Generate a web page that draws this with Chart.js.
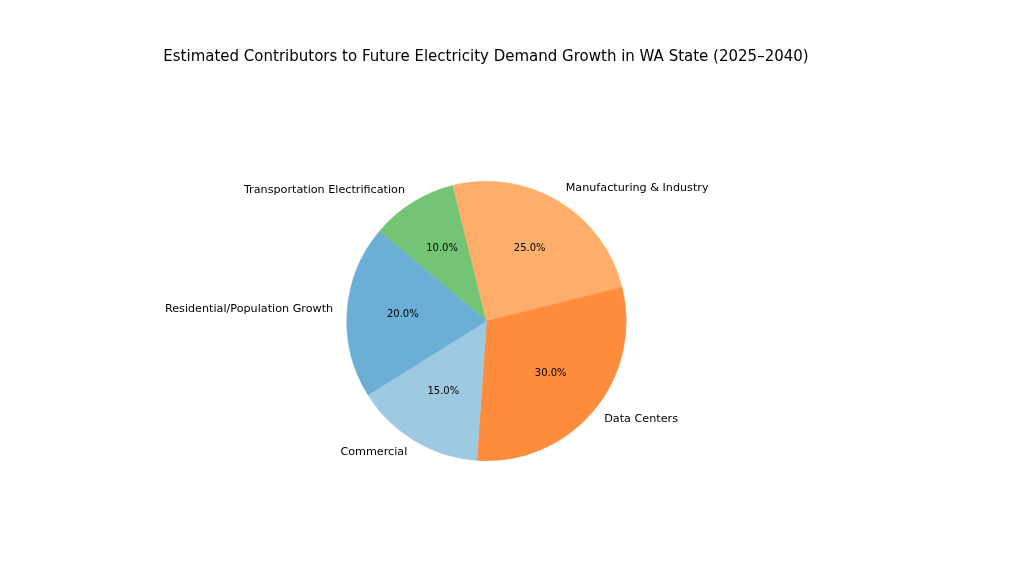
<!DOCTYPE html>
<html>
<head>
<meta charset="utf-8">
<script src="https://cdn.jsdelivr.net/npm/chart.js@4/dist/chart.umd.min.js"></script>
<style>
  html, body { margin: 0; padding: 0; background: #fff; }
  #wrap { width: 1024px; height: 564px; position: relative; }
</style>
</head>
<body>
<div id="wrap"><canvas id="pie"></canvas></div>
<script>
// Data (listed clockwise, starting from the top-left edge of the green slice)
const categories = ['Transportation Electrification', 'Manufacturing & Industry', 'Data Centers', 'Commercial', 'Residential/Population Growth'];
const shares = [10, 25, 30, 15, 20];
const sliceColors = ['#74c476', '#fdae6b', '#fd8d3c', '#9ecae1', '#6baed6'];
const chartTitle = 'Estimated Contributors to Future Electricity Demand Growth in WA State (2025\u20132040)';

const FONT = '"DejaVu Sans", sans-serif';

// Draw title, outer labels and percentages like matplotlib's pie()
const pieText = {
    id: 'pieText',
    afterDatasetsDraw(chart) {
        const ctx = chart.ctx;
        const meta = chart.getDatasetMeta(0);
        const total = shares.reduce((a, b) => a + b, 0);
        ctx.save();
        ctx.fillStyle = '#000';
        ctx.textBaseline = 'middle';

        // title
        ctx.font = '15px ' + FONT;
        ctx.textAlign = 'center';
        ctx.fillText(chartTitle, 486, 57);

        meta.data.forEach((arc, i) => {
            const p = arc.getProps(['x', 'y', 'startAngle', 'endAngle', 'outerRadius'], true);
            const mid = (p.startAngle + p.endAngle) / 2;
            const r = p.outerRadius;
            const cx = Math.cos(mid), cy = Math.sin(mid);

            // category label at 1.1 r
            ctx.font = '11.2px ' + FONT;
            ctx.textAlign = cx >= 0 ? 'left' : 'right';
            ctx.fillText(categories[i], p.x + cx * r * 1.1, p.y + cy * r * 1.1 - 1);

            // percentage at 0.6 r
            ctx.font = '10px ' + FONT;
            ctx.textAlign = 'center';
            const pct = (shares[i] / total * 100).toFixed(1) + '%';
            ctx.fillText(pct, p.x + cx * r * 0.6, p.y + cy * r * 0.6 - 1);
        });
        ctx.restore();
    }
};

new Chart(document.getElementById('pie'), {
    type: 'pie',
    data: {
        labels: categories,
        datasets: [{
            data: shares,
            backgroundColor: sliceColors,
            borderColor: sliceColors,
            borderWidth: 0.5,
        }]
    },
    options: {
        responsive: true,
        maintainAspectRatio: false,
        animation: false,
        rotation: -50,
        layout: {
            padding: { left: 346, right: 397, top: 181, bottom: 103 }
        },
        plugins: {
            legend: { display: false },
            title: { display: false },
            tooltip: { enabled: false }
        }
    },
    plugins: [pieText]
});
</script>
</body>
</html>
